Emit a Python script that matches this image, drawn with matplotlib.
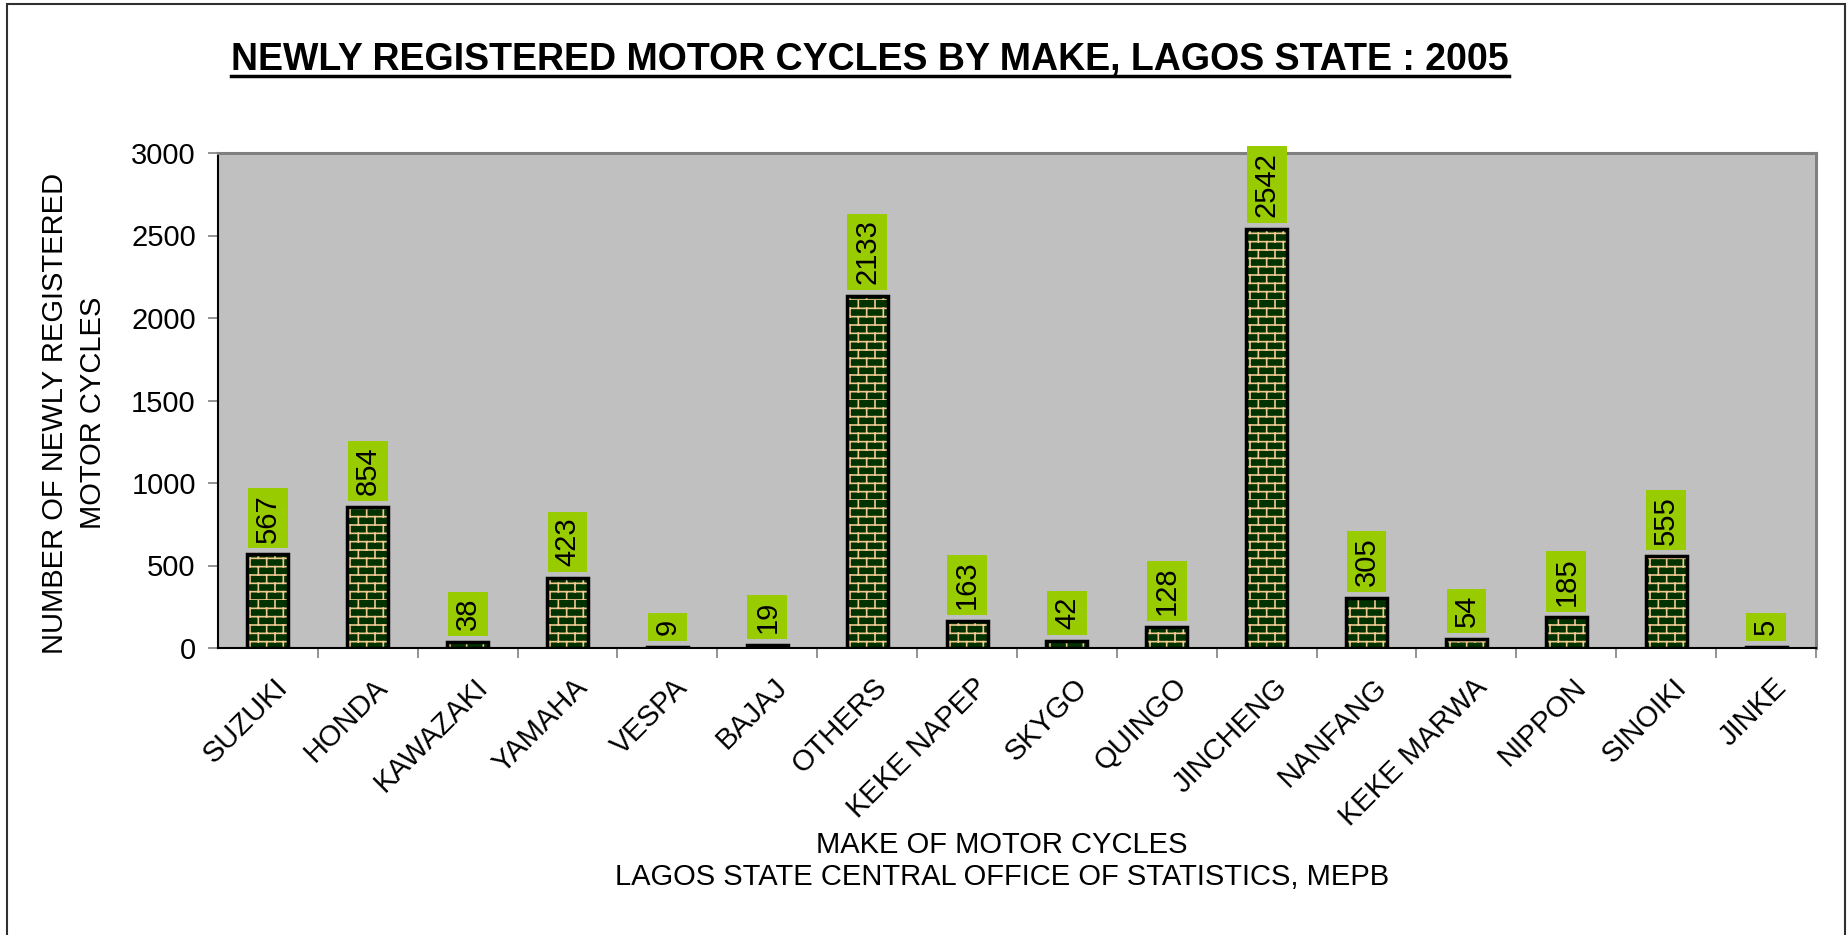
import warnings
import numpy as np
import matplotlib
matplotlib.use("Agg")
import matplotlib.pyplot as plt
from matplotlib import hatch as mhatch
from matplotlib.path import Path
from matplotlib.patches import Rectangle
from matplotlib.lines import Line2D
import matplotlib.transforms as mtransforms

warnings.filterwarnings("ignore")

makes = ["SUZUKI", "HONDA", "KAWAZAKI", "YAMAHA", "VESPA", "BAJAJ", "OTHERS",
         "KEKE NAPEP", "SKYGO", "QUINGO", "JINCHENG", "NANFANG", "KEKE MARWA",
         "NIPPON", "SINOIKI", "JINKE"]
registered = [567, 854, 38, 423, 9, 19, 2133, 163, 42, 128, 2542, 305, 54, 185, 555, 5]
yticks = [0, 500, 1000, 1500, 2000, 2500, 3000]


# brick hatch ('b')
class BrickHatch(mhatch.HatchPatternBase):
    def __init__(self, hatch, density):
        self.rows = 12 if "b" in hatch else 0
        self.cols = 6
        self.num_vertices = self.rows * 2 + self.rows * self.cols * 2

    def set_vertices_and_codes(self, vertices, codes):
        k = 0
        for r in range(self.rows):
            y = r / self.rows
            vertices[k] = (0, y)
            vertices[k + 1] = (1, y)
            codes[k] = Path.MOVETO
            codes[k + 1] = Path.LINETO
            k += 2
        for r in range(self.rows):
            y0 = r / self.rows
            y1 = (r + 1) / self.rows
            off = 0 if r % 2 == 0 else 0.5 / self.cols
            for c in range(self.cols):
                xx = c / self.cols + off
                vertices[k] = (xx, y0)
                vertices[k + 1] = (xx, y1)
                codes[k] = Path.MOVETO
                codes[k + 1] = Path.LINETO
                k += 2


mhatch._hatch_types.append(BrickHatch)

plt.rcParams["font.family"] = ["Liberation Sans", "DejaVu Sans"]
plt.rcParams["hatch.linewidth"] = 1.2

fig = plt.figure(figsize=(18.49, 9.35), dpi=100)
ax = fig.add_axes([218 / 1849, 1 - 648 / 935, (1816 - 218) / 1849, (648 - 153) / 935])
ax.set_facecolor("#c0c0c0")

x = np.arange(len(makes))
ax.bar(x, registered, width=0.41, color="#003300", edgecolor="#f0c890",
       hatch="b", linewidth=0, zorder=2)
ax.bar(x, registered, width=0.41, fill=False, edgecolor="black",
       linewidth=2.5, zorder=3)

for xi, v in zip(x, registered):
    ax.annotate(str(v), (xi, v), xytext=(0, 8.5), textcoords="offset points",
                rotation=90, ha="center", va="bottom", fontsize=21,
                bbox=dict(boxstyle="square,pad=0.2", fc="#99cc00", ec="none"),
                zorder=4)

ax.set_xlim(-0.5, len(makes) - 0.5)
ax.set_ylim(0, 3000)
ax.set_yticks(yticks)
ax.tick_params(axis="y", labelsize=21, length=7, width=1.2, color="#808080", pad=9)
ax.set_xticks(x + 0.5, minor=True)
ax.set_xticks(x)
ax.set_xticklabels(makes, rotation=45, ha="right", va="top", rotation_mode="anchor",
                   fontsize=21)
ax.tick_params(axis="x", which="major", length=0, pad=18)
ax.tick_params(axis="x", which="minor", length=7, width=1.2, color="#808080")
offset = mtransforms.ScaledTranslation(6 / 100, 0, fig.dpi_scale_trans)
for lbl in ax.get_xticklabels():
    lbl.set_transform(lbl.get_transform() + offset)

for side in ["top", "right"]:
    ax.spines[side].set_color("#808080")
    ax.spines[side].set_linewidth(2.2)
for side in ["left", "bottom"]:
    ax.spines[side].set_color("black")
    ax.spines[side].set_linewidth(1.5)

fig.text(74 / 1849, 1 - 413 / 935, "NUMBER OF NEWLY REGISTERED\nMOTOR CYCLES",
         rotation=90, ha="center", va="center", multialignment="center",
         fontsize=21, linespacing=1.45)
fig.text(1002 / 1849, 1 - 861 / 935,
         "MAKE OF MOTOR CYCLES\nLAGOS STATE CENTRAL OFFICE OF STATISTICS, MEPB",
         ha="center", va="center", multialignment="center", fontsize=21,
         linespacing=1.15)

title = fig.text(870 / 1849, 1 - 70 / 935,
                 "NEWLY REGISTERED MOTOR CYCLES BY MAKE, LAGOS STATE : 2005",
                 ha="center", va="baseline", fontsize=27, fontweight="bold")
fig.canvas.draw()
bb = title.get_window_extent().transformed(fig.transFigure.inverted())
uy = 1 - 76 / 935
fig.add_artist(Line2D([bb.x0, bb.x1], [uy, uy], color="black", linewidth=2.5,
                      transform=fig.transFigure))

fig.add_artist(Rectangle((7 / 1849, -0.02), (1845 - 7) / 1849, 1.02 - 4 / 935,
                         transform=fig.transFigure, fill=False,
                         edgecolor="#303030", linewidth=1.5))

fig.savefig("out.png", dpi=100)
